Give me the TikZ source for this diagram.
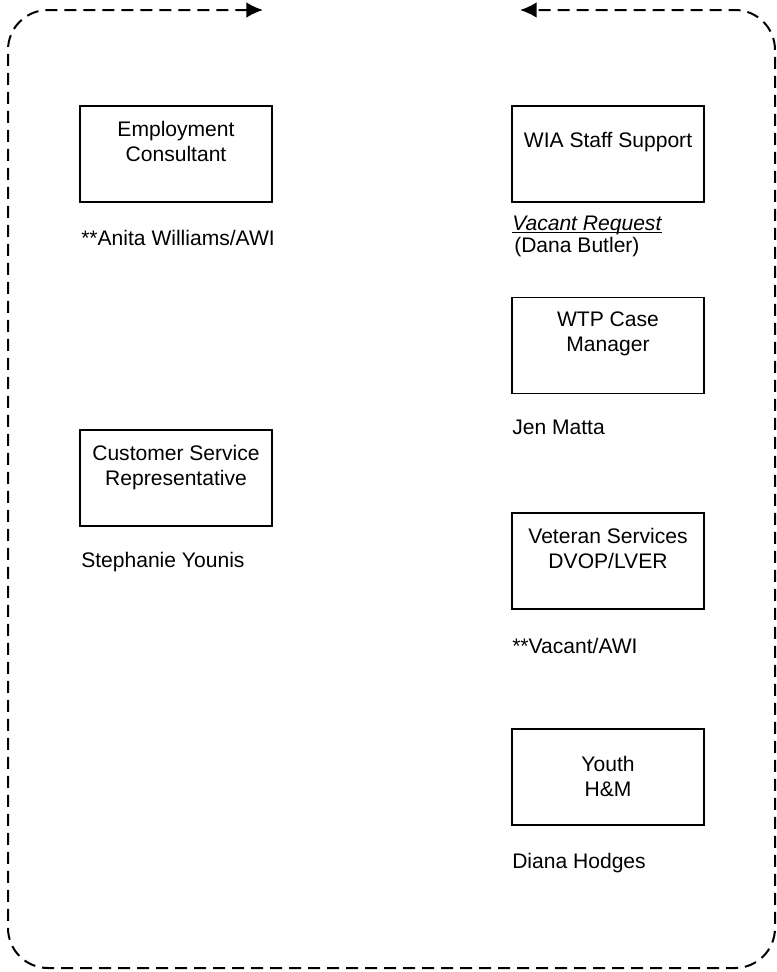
\documentclass[tikz,border=0pt]{standalone}
\usepackage{fontspec}
\setmainfont{Liberation Sans}
\usetikzlibrary{arrows.meta}

\begin{document}
\begin{tikzpicture}[x=0.75pt, y=-0.75pt,
	unit/.style={draw, line width=1.1pt, rectangle, minimum width=144pt, minimum height=72pt, inner sep=0pt},
	unittext/.style={anchor=north, align=center, inner sep=0pt, font=\fontsize{15.8}{18.75}\selectfont},
	holder/.style={anchor=north west, align=left, inner sep=0pt, font=\fontsize{15.8}{16.5}\selectfont},
	loopline/.style={dash pattern=on 9pt off 5.25pt, line width=1.5pt, rounded corners=30pt, {Latex[length=12.5pt, width=11.75pt]}-{Latex[length=12.5pt, width=11.75pt]}}]
			\useasboundingbox (0, 0) rectangle (777, 972);

			\node[unit] at (176, 154) (ec) {};
			\node[unit] at (176, 478) (csr) {};
			\node[unit] at (608, 154) (wia) {};
			\node[unit] at (608, 345.5) (wtp) {};
			\node[unit] at (608, 561) (vet) {};
			\node[unit] at (608, 777) (youth) {};

			\node[unittext] at (176, 121) (ec-t) {Employment\\Consultant};
			\node[unittext] at (176, 445) (csr-t) {Customer Service\\Representative};
			\node[unittext] at (608, 132) (wia-t) {WIA Staff Support};
			\node[unittext] at (608, 312) (wtp-t) {WTP Case\\Manager};
			\node[unittext] at (608, 528) (vet-t) {Veteran Services\\DVOP/LVER};
			\node[unittext] at (608, 756) (youth-t) {Youth\\H\&M};

			\node[holder] at (81, 230) (anita) {**Anita Williams/AWI};
			\node[holder] at (81, 552) (stephanie) {Stephanie Younis};
			\node[holder] at (512, 216) (dana) {\underline{\raisebox{0pt}[\height][0pt]{\textit{Vacant Request}}}\\\hspace{1.5pt}(Dana Butler)};
			\node[holder] at (512, 420) (jen) {Jen Matta};
			\node[holder] at (512, 638) (awi) {**Vacant/AWI};
			\node[holder] at (512, 853) (diana) {Diana Hodges};

			\coordinate (in) at (263, 10);
			\coordinate (tl) at (8, 10);
			\coordinate (bl) at (8, 968);
			\coordinate (br) at (775, 968);
			\coordinate (tr) at (775, 10);
			\coordinate (out) at (520, 10);
			\draw[loopline] (in) -- (tl) -- (bl) -- (br) -- (tr) -- (out);
		\end{tikzpicture}
\end{document}
